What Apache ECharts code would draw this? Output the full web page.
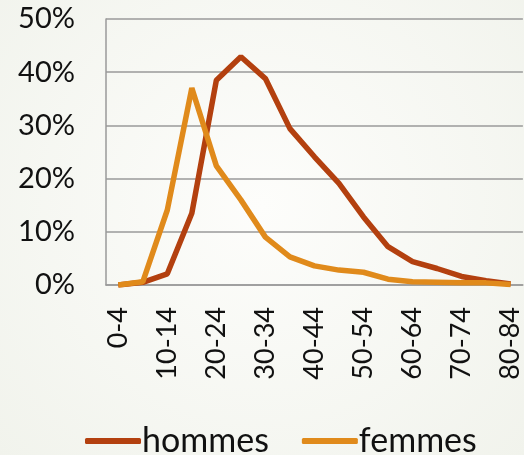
<!DOCTYPE html>
<html>
<head>
<meta charset="utf-8">
<script src="https://cdn.jsdelivr.net/npm/echarts@6/dist/echarts.min.js"></script>
<style>
  html, body { margin: 0; padding: 0; }
  #chart { width: 524px; height: 455px; }
</style>
</head>
<body>
<div id="chart"></div>
<script>
  var ages = ['0-4','5-9','10-14','15-19','20-24','25-29','30-34','35-39','40-44',
              '45-49','50-54','55-59','60-64','65-69','70-74','75-79','80-84'];
  var hommes = [0, 0.5, 2.1, 13.5, 38.5, 42.9, 38.8, 29.4, 24.1, 19.1, 12.8, 7.2, 4.4, 3.1, 1.6, 0.8, 0.2];
  var femmes = [0, 0.6, 14.1, 37.0, 22.4, 16.0, 9.0, 5.3, 3.6, 2.8, 2.4, 1.1, 0.6, 0.5, 0.4, 0.4, 0.1];
  var yTicks = [0, 10, 20, 30, 40, 50];

  var myChart = echarts.init(document.getElementById('chart'));
  var font = 'Lato, sans-serif';
  var option = {
    backgroundColor: {
      type: 'radial', x: 0.5, y: 0.45, r: 0.8,
      colorStops: [{offset: 0, color: '#fdfdfb'}, {offset: 1, color: '#f1f3ec'}]
    },
    color: ['#b3400f', '#e08a1b'],
    grid: { left: 106, top: 19, right: -3, bottom: 170 },
    legend: {
      top: 419,
      left: 80,
      itemWidth: 56,
      itemHeight: 6,
      itemGap: 33,
      icon: 'roundRect',
      textStyle: { fontSize: 34, color: '#111', fontFamily: font, padding: [0, 0, 0, -4] },
      data: ['hommes', 'femmes']
    },
    xAxis: {
      type: 'category',
      data: ages,
      boundaryGap: true,
      axisLine: { lineStyle: { color: '#9a9a9a', width: 1.5 } },
      axisTick: { show: false },
      axisLabel: { interval: 1, rotate: 90, fontSize: 27, color: '#111', fontFamily: font, margin: 22 }
    },
    yAxis: {
      type: 'value',
      min: yTicks[0],
      max: yTicks[yTicks.length - 1],
      interval: 10,
      axisLine: { show: true, lineStyle: { color: '#9a9a9a', width: 1.5 } },
      axisTick: { show: false },
      axisLabel: { formatter: '{value}%', fontSize: 29, color: '#111', fontFamily: font, margin: 31 },
      splitLine: { lineStyle: { color: '#9a9a9a', width: 1.5 } }
    },
    series: [
      { name: 'hommes', type: 'line', data: hommes, symbol: 'none', lineStyle: { width: 5.5 }, z: 2 },
      { name: 'femmes', type: 'line', data: femmes, symbol: 'none', lineStyle: { width: 5.5 }, z: 3 }
    ]
  };
  myChart.setOption(option);
</script>
</body>
</html>
